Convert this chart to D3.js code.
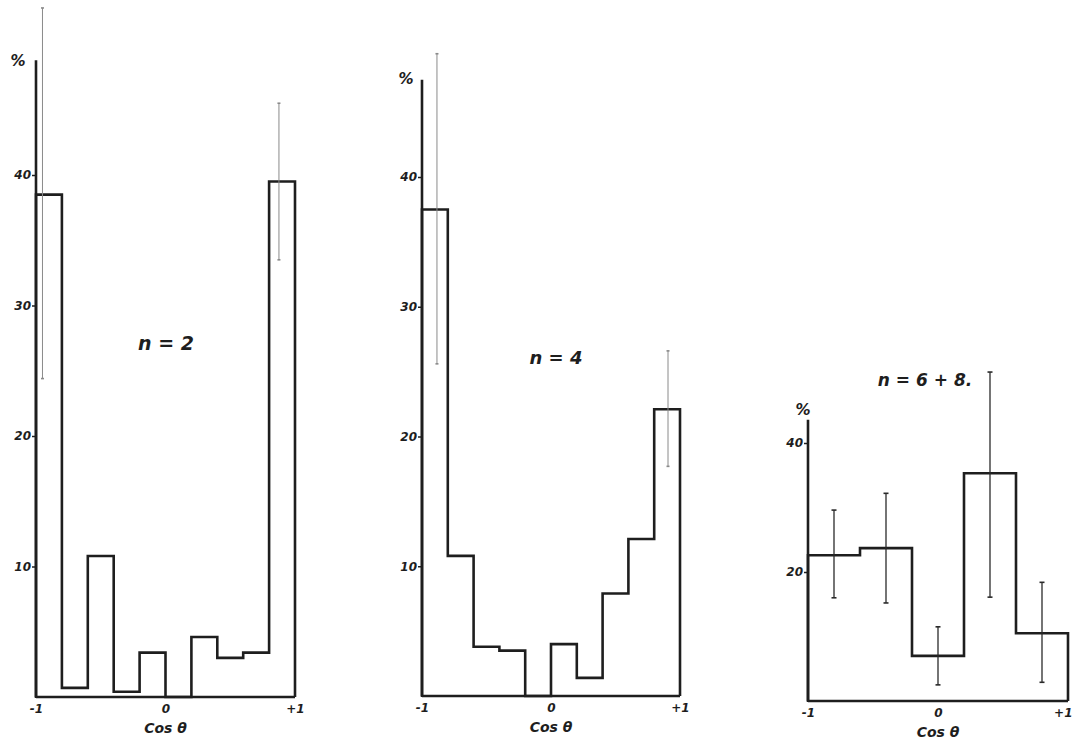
<!DOCTYPE html>
<html>
<head>
<meta charset="utf-8">
<script src="https://cdn.jsdelivr.net/npm/d3@7/dist/d3.min.js"></script>
<style>
  html, body { margin: 0; padding: 0; background: #ffffff; }
  svg { display: block; }
  text { font-family: "DejaVu Sans", sans-serif; font-style: italic; font-weight: bold; fill: #1e1e1e; }
</style>
</head>
<body>
<svg id="chart" width="1074" height="747"></svg>
<script>
// Bin edges in cos θ
const edgesTen = [-1, -0.8, -0.6, -0.4, -0.2, 0, 0.2, 0.4, 0.6, 0.8, 1];
const edgesFive = [-1, -0.6, -0.2, 0.2, 0.6, 1];

// Percentage per bin
const pctN2 = [38.5, 0.7, 10.8, 0.4, 3.4, 0, 4.6, 3.0, 3.4, 39.5];
const pctN4 = [37.5, 10.8, 3.8, 3.5, 0, 4.0, 1.4, 7.9, 12.1, 22.1];
const pctN68 = [22.6, 23.7, 7.0, 35.3, 10.5];

// Error bars: position in cos θ, lower and upper end (%)
const errPosN2 = [-0.95, 0.876];
const errLoN2 = [24.4, 33.5];
const errHiN2 = [52.8, 45.5];

const errPosN4 = [-0.884, 0.907];
const errLoN4 = [25.6, 17.7];
const errHiN4 = [49.5, 26.6];

const errPosN68 = [-0.8, -0.4, 0, 0.4, 0.8];
const errLoN68 = [16.0, 15.2, 2.5, 16.1, 2.9];
const errHiN68 = [29.6, 32.2, 11.5, 51.0, 18.4];

// Tick values and labels
const yTicksN2 = [10, 20, 30, 40];
const yTicksN4 = [10, 20, 30, 40];
const yTicksN68 = [20, 40];
const xTicks = [-1, 0, 1];
const xTickLabels = ["-1", "0", "+1"];

const panelTitles = ["n = 2", "n = 4", "n = 6 + 8."];

// Panel layout
const panels = [
  { edges: edgesTen, pct: pctN2, pos: errPosN2, lo: errLoN2, hi: errHiN2, ticks: yTicksN2,
    x0: 36, x1: 295, y0: 697, yTopVal: 40, yTopPx: 175, axisTop: 48.8,
    title: panelTitles[0], tx: 166, ty: 350, tsize: 19,
    pctX: 18, pctY: 66, errColor: "#8a8a8a", errWidth: 1, cap: 3, lastAnchor: "middle" },
  { edges: edgesTen, pct: pctN4, pos: errPosN4, lo: errLoN4, hi: errHiN4, ticks: yTicksN4,
    x0: 422, x1: 680, y0: 696, yTopVal: 40, yTopPx: 177, axisTop: 47.5,
    title: panelTitles[1], tx: 556, ty: 364, tsize: 18,
    pctX: 406, pctY: 84, errColor: "#8a8a8a", errWidth: 1, cap: 3, lastAnchor: "middle" },
  { edges: edgesFive, pct: pctN68, pos: errPosN68, lo: errLoN68, hi: errHiN68, ticks: yTicksN68,
    x0: 808, x1: 1068, y0: 701, yTopVal: 40, yTopPx: 443, axisTop: 43.6,
    title: panelTitles[2], tx: 925, ty: 386, tsize: 17,
    pctX: 803, pctY: 415, errColor: "#2a2a2a", errWidth: 1.3, cap: 5, lastAnchor: "end" }
];

const svg = d3.select("#chart");

panels.forEach(p => {
  const x = d3.scaleLinear().domain([-1, 1]).range([p.x0, p.x1]);
  const y = d3.scaleLinear().domain([0, p.yTopVal]).range([p.y0, p.yTopPx]);
  const g = svg.append("g");

  // Baseline
  g.append("line")
    .attr("x1", x(-1)).attr("x2", x(1))
    .attr("y1", y(0)).attr("y2", y(0))
    .attr("stroke", "#1e1e1e").attr("stroke-width", 2.6);

  // Y axis with ticks
  const yAxis = d3.axisLeft(y)
    .tickValues(p.ticks)
    .tickSize(4)
    .tickSizeOuter(0)
    .tickFormat(d3.format("d"));
  const ya = g.append("g").attr("transform", `translate(${x(-1)},0)`).call(yAxis);
  ya.select(".domain").remove();
  ya.selectAll(".tick line").attr("stroke", "#1e1e1e").attr("stroke-width", 1.5);
  ya.selectAll(".tick text")
    .attr("x", -5)
    .style("font-family", "'DejaVu Sans', sans-serif")
    .style("font-style", "italic").style("font-weight", "bold")
    .style("font-size", "12px").attr("fill", "#1e1e1e");
  g.append("line")
    .attr("x1", x(-1)).attr("x2", x(-1))
    .attr("y1", y(0) + 1).attr("y2", y(p.axisTop))
    .attr("stroke", "#1e1e1e").attr("stroke-width", 2.6);

  // X axis labels
  const xAxis = d3.axisBottom(x)
    .tickValues(xTicks)
    .tickSize(0)
    .tickFormat((d, i) => xTickLabels[i]);
  const xa = g.append("g").attr("transform", `translate(0,${y(0)})`).call(xAxis);
  xa.select(".domain").remove();
  xa.selectAll(".tick text")
    .attr("y", 7)
    .style("font-family", "'DejaVu Sans', sans-serif")
    .style("font-style", "italic").style("font-weight", "bold")
    .style("font-size", "12px").attr("fill", "#1e1e1e");
  xa.selectAll(".tick text").filter(d => d === 1)
    .attr("text-anchor", p.lastAnchor)
    .attr("x", p.lastAnchor === "end" ? 4 : 0);

  g.append("text")
    .attr("x", x(0)).attr("y", y(0) + 36)
    .attr("text-anchor", "middle")
    .style("font-size", "14px")
    .text("Cos θ");

  // Histogram outline as a step path
  const pts = [[p.edges[0], 0]];
  p.pct.forEach((v, i) => {
    pts.push([p.edges[i], v]);
    pts.push([p.edges[i + 1], v]);
  });
  pts.push([p.edges[p.edges.length - 1], 0]);
  const line = d3.line().x(d => x(d[0])).y(d => y(d[1]));
  g.append("path")
    .attr("d", line(pts))
    .attr("fill", "none")
    .attr("stroke", "#1e1e1e")
    .attr("stroke-width", 2.6)
    .attr("stroke-linejoin", "miter");

  // Error bars
  p.pos.forEach((c, i) => {
    const cx = x(c);
    g.append("line")
      .attr("x1", cx).attr("x2", cx)
      .attr("y1", y(p.lo[i])).attr("y2", y(p.hi[i]))
      .attr("stroke", p.errColor).attr("stroke-width", p.errWidth);
    [p.lo[i], p.hi[i]].forEach(v => {
      g.append("line")
        .attr("x1", cx - p.cap / 2).attr("x2", cx + p.cap / 2)
        .attr("y1", y(v)).attr("y2", y(v))
        .attr("stroke", p.errColor).attr("stroke-width", 1.6);
    });
  });

  // Unit label and panel title
  g.append("text")
    .attr("x", p.pctX).attr("y", p.pctY)
    .attr("text-anchor", "middle")
    .style("font-size", "15px")
    .text("%");

  g.append("text")
    .attr("x", p.tx).attr("y", p.ty)
    .attr("text-anchor", "middle")
    .style("font-size", p.tsize + "px")
    .text(p.title);
});
</script>
</body>
</html>
